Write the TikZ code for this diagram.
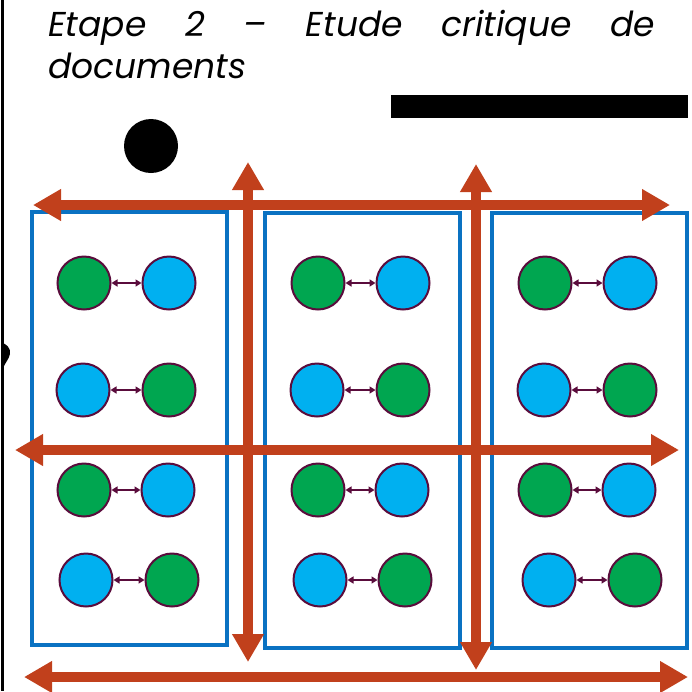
\documentclass[tikz,border=0pt]{standalone}
\usepackage{fontspec}
\newfontfamily\titlefont{Poppins}
\usetikzlibrary{arrows.meta}
\definecolor{arrorange}{HTML}{C1401C}
\definecolor{boxblue}{HTML}{0A72C2}
\definecolor{dotgreen}{HTML}{00A650}
\definecolor{dotblue}{HTML}{00B0F0}
\definecolor{rim}{HTML}{5A0C3C}
\tikzset{
  gdot/.style={circle, draw=rim, line width=2pt, fill=dotgreen, minimum size=53pt, inner sep=0pt},
  bdot/.style={circle, draw=rim, line width=2pt, fill=dotblue, minimum size=53pt, inner sep=0pt},
  link/.style={rim, line width=1.5pt, {Triangle[length=6pt,width=7pt]}-{Triangle[length=6pt,width=7pt]}},
  bigarrow/.style={arrorange, line width=10pt, {Triangle[length=28pt,width=30pt]}-{Triangle[length=28pt,width=30pt]}},
  panel/.style={boxblue, line width=4.5pt},
  title/.style={font=\fontsize{34.5}{42}\selectfont\titlefont\itshape, inner sep=0pt, anchor=base west}
}
\begin{document}
\begin{tikzpicture}[x=1pt,y=-1pt]
\useasboundingbox (0,0) rectangle (692,691);
\fill[white] (0,0) rectangle (692,691);
% left rule and blob
\fill[black] (1,0) rectangle (3.5,691);
\fill[black] (1,343) .. controls (6,343) and (11,348) .. (10,354) .. controls (9,359) and (5,363) .. (3,368) -- (1,368) -- cycle;
% title
\node[title] (t1) at (48,36) {\makebox[607pt][s]{Etape 2 – Etude critique de}};
\node[title] (t2) at (48,78) {documents};
% black bar and dot
\fill[black] (391,95) rectangle (688,118);
\fill[black] (151,146) circle (27);
% panels
\draw[panel] (32,212) rectangle (227,645);
\draw[panel] (265,213) rectangle (460,648);
\draw[panel] (492,213) rectangle (687,648);
% dots
\foreach \c/\dx in {1/0,2/234,3/461}{
  \node[gdot] (g1\c) at (84+\dx,283) {};
  \node[bdot] (b1\c) at (169+\dx,283) {};
  \node[bdot] (b2\c) at (83+\dx,390) {};
  \node[gdot] (g2\c) at (169+\dx,390) {};
  \node[gdot] (g3\c) at (84+\dx,490) {};
  \node[bdot] (b3\c) at (168+\dx,490) {};
  \draw[link] (g1\c) -- (b1\c);
  \draw[link] (b2\c) -- (g2\c);
  \draw[link] (g3\c) -- (b3\c);
}
\node[bdot] (b41) at (86,580) {};
\node[gdot] (g41) at (172,580) {};
\node[bdot] (b42) at (320,580) {};
\node[gdot] (g42) at (405,580) {};
\node[bdot] (b43) at (549,580) {};
\node[gdot] (g43) at (635,580) {};
\draw[link] (b41) -- (g41);
\draw[link] (b42) -- (g42);
\draw[link] (b43) -- (g43);
% big arrows
\coordinate (h1a) at (33,205); \coordinate (h1b) at (670,205);
\coordinate (h2a) at (15,450); \coordinate (h2b) at (679,450);
\coordinate (h3a) at (24,677); \coordinate (h3b) at (688,677);
\coordinate (v1a) at (248,162); \coordinate (v1b) at (248,662);
\coordinate (v2a) at (476,164); \coordinate (v2b) at (476,670);
\draw[bigarrow] (h1a) -- (h1b);
\draw[bigarrow] (h2a) -- (h2b);
\draw[bigarrow] (h3a) -- (h3b);
\draw[bigarrow] (v1a) -- (v1b);
\draw[bigarrow] (v2a) -- (v2b);
\end{tikzpicture}
\end{document}
